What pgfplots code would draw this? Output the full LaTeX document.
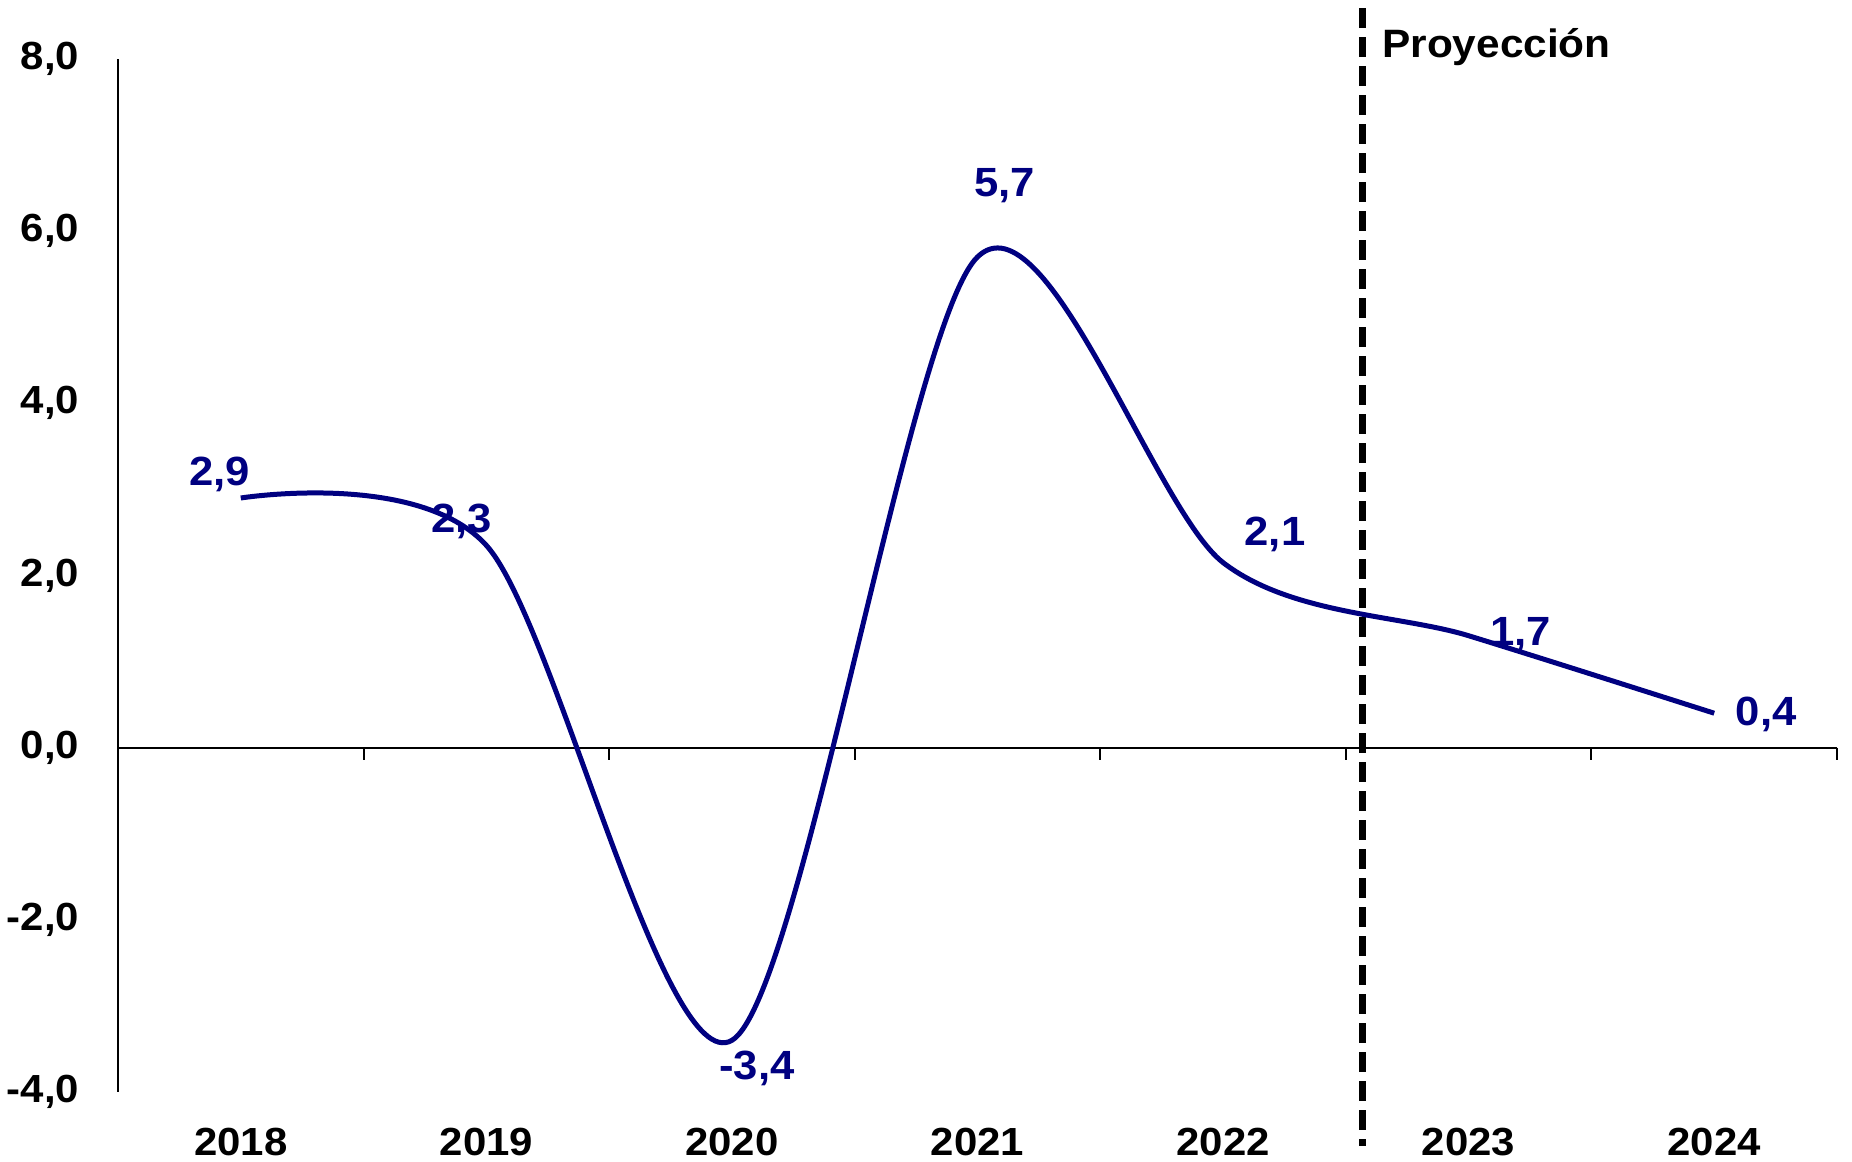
\documentclass[border=0pt]{standalone}
\usepackage{fontspec}
\setmainfont{Liberation Sans}[FakeStretch=1.07]
\usepackage{pgfplots}
\usepackage{pgfplotstable}
\pgfplotsset{compat=1.18}
\definecolor{navyline}{RGB}{0,0,128}
\pgfplotstableread{
x y dx dy lab
0 2.9 -5.25 6 2,9
1 2.35 -6.25 6 2,3
2 -3.4 6.25 -7 -3,4
3 5.7 6.75 17.75 5,7
4 2.15 13 7 2,1
5 1.3 13 0.25 1,7
6 0.4 13 -0.25 0,4
}\gdp
\begin{document}
\begin{tikzpicture}
\path[use as bounding box] (-29.5pt,-17.5pt) rectangle (433.5pt,273pt);
\begin{axis}[
  at={(0,0)}, anchor=south west,
  scale only axis, width=429.75pt, height=258.25pt,
  xmin=-0.5, xmax=6.5, ymin=-4, ymax=8,
  axis x line=bottom, axis y line=left,
  axis line style={-},
  x axis line style={draw=none},
  y axis line style={line width=0.5pt},
  xtick={0,1,2,3,4,5,6},
  xticklabels={2018,2019,2020,2021,2022,2023,2024},
  ytick={-4,-2,0,2,4,6,8},
  major tick length=0pt,
  tick style={draw=none},
  clip=false,
  /pgf/number format/assume math mode=true,
  yticklabel={\pgfmathprintnumber[fixed,fixed zerofill,precision=1,use comma]{\tick}},
  tick label style={font=\fontsize{9.8}{11}\selectfont\bfseries},
  yticklabel style={xshift=-6.2pt},
  xticklabel style={yshift=-5.5pt},
]
\draw[line width=0.5pt] (axis cs:-0.5,0) -- (axis cs:6.5,0);
\draw[line width=0.5pt] (axis cs:0.5,0) -- ([yshift=-3pt]axis cs:0.5,0);
\draw[line width=0.5pt] (axis cs:1.5,0) -- ([yshift=-3pt]axis cs:1.5,0);
\draw[line width=0.5pt] (axis cs:2.5,0) -- ([yshift=-3pt]axis cs:2.5,0);
\draw[line width=0.5pt] (axis cs:3.5,0) -- ([yshift=-3pt]axis cs:3.5,0);
\draw[line width=0.5pt] (axis cs:4.5,0) -- ([yshift=-3pt]axis cs:4.5,0);
\draw[line width=0.5pt] (axis cs:5.5,0) -- ([yshift=-3pt]axis cs:5.5,0);
\draw[line width=0.5pt] (axis cs:6.5,0) -- ([yshift=-3pt]axis cs:6.5,0);
\draw[line width=1.6pt, dash pattern=on 5pt off 2.25pt] (axis cs:4.567,8.59) -- (axis cs:4.567,-4.63);
\node[anchor=base west, inner sep=0pt, font=\fontsize{9.9}{11}\selectfont\bfseries] at (axis cs:4.645,8.02) {Proyección};
\addplot[navyline, line width=1.25pt, smooth, mark=none] table[x=x,y=y]{\gdp};
\addplot[draw=none, mark=none, nodes near coords, point meta=explicit symbolic,
  visualization depends on={\thisrow{dx}\as\dx},
  visualization depends on={\thisrow{dy}\as\dy},
  every node near coord/.append style={anchor=center, xshift=\dx pt, yshift=\dy pt, text=navyline, inner sep=0pt, font=\fontsize{10.2}{12}\selectfont\bfseries}]
  table[x=x,y=y,meta=lab]{\gdp};
\end{axis}
\end{tikzpicture}
\end{document}
